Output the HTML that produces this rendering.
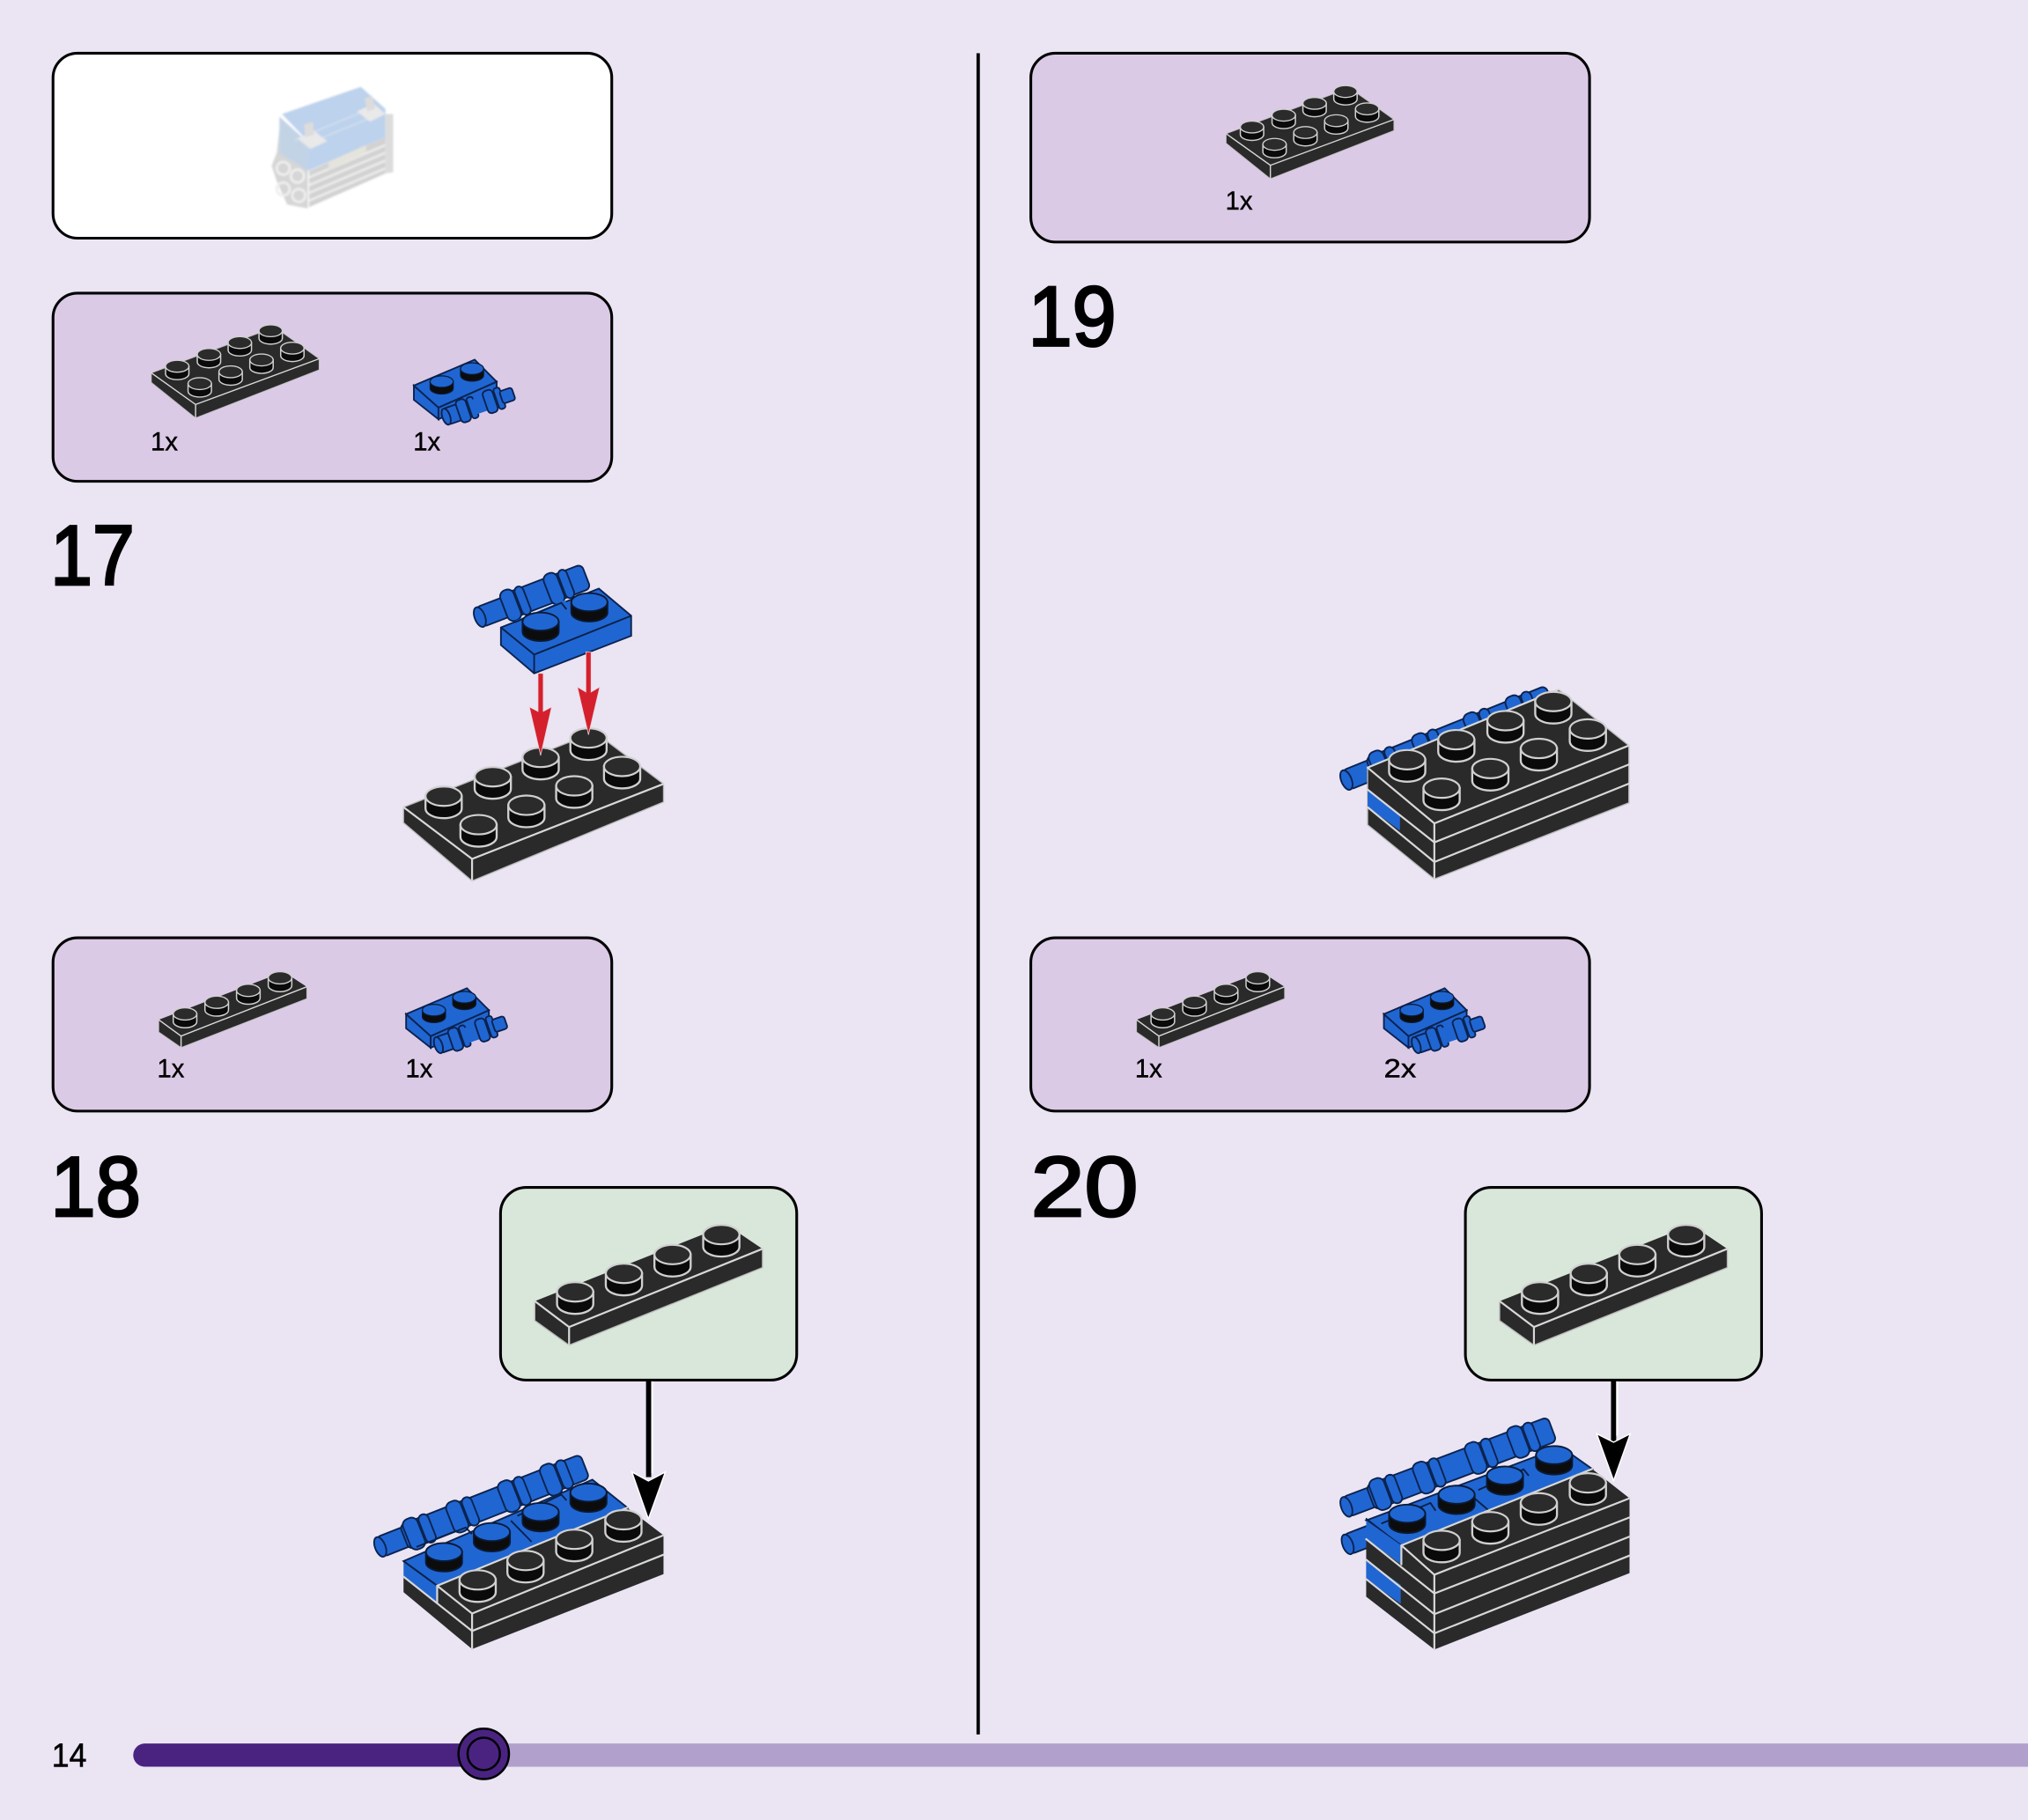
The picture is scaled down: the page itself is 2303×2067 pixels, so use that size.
<!DOCTYPE html>
<html><head><meta charset="utf-8"><title>Build steps 17-20</title>
<style>html,body{margin:0;padding:0;background:#ebe4f3}svg{display:block}
text{font-family:"Liberation Sans",sans-serif;fill:#000}
.n{font-size:66px;stroke:#000;stroke-width:1.9px}.q{font-size:20px;stroke:#000;stroke-width:.3px}
.bk{fill:#2a2a2a}.e{stroke:#d8d8d8;stroke-width:1.5;fill:none;stroke-linecap:round}
.o{stroke:#b9b9b9;stroke-width:.9}.bl{fill:#2066d2}.d{stroke:#0b2350;stroke-width:1.3}.bd{stroke:#0a2148;stroke-width:1.3;fill:none}</style></head>
<body>
<svg xmlns="http://www.w3.org/2000/svg" width="2303" height="2067" viewBox="0 0 1568 1407">
<defs>
<filter id="soft" x="-5%" y="-5%" width="110%" height="110%"><feGaussianBlur stdDeviation=".7"/></filter>
<g id="s"><path d="M-14,-4.500V5A14,7.500 0 0 0 14,5V-4.500Z" fill="#0a0a0a" stroke="#d0d0d0" stroke-width="1.600"/><ellipse cy="-4.500" rx="14" ry="7.500" fill="#2b2b2b" stroke="#d0d0d0" stroke-width="1.500"/></g>
<g id="b"><path d="M-14,-4V4A14,7 0 0 0 14,4V-4Z" fill="#0c0c0c" stroke="#0a1a35" stroke-width="1.300"/><ellipse cy="-4" rx="14" ry="7" fill="#2066d2" stroke="#0a1a35" stroke-width="1.300"/></g>
<g id="p8">
<polygon class="bk o" points="312,624 460,566 513,606 513,620 365,681 312,636"/>
<path class="e" d="M312,624L365,664L513,606M365,664V681"/>
<use href="#s" x="343" y="620"/><use href="#s" x="381" y="605"/><use href="#s" x="418" y="590"/><use href="#s" x="455" y="575"/>
<use href="#s" x="370" y="642"/><use href="#s" x="407" y="627"/><use href="#s" x="444" y="612"/><use href="#s" x="481" y="597"/>
</g>
<g id="p4">
<polygon class="bk o" points="413.500,1006 440,1026 589.500,965.500 589.500,980 440,1040 413.500,1021"/>
<polygon class="bk" points="413.500,1006 562,947 589.500,965.500 440,1026"/>
<path class="e" d="M413.500,1006L440,1026L589.500,965.500M440,1026V1040"/>
<use href="#s" x="444.700" y="1003.300"/><use href="#s" x="482.400" y="989"/><use href="#s" x="520" y="974.400"/><use href="#s" x="557.700" y="959"/>
</g>
<g id="tube">
<rect class="bl d" x="0" y="-8" width="26" height="16" rx="3"/>
<rect class="bl d" x="20" y="-10" width="150" height="20" rx="4"/>
<g class="bl d">
<rect x="22" y="-12.500" width="12" height="25" rx="5"/><rect x="35" y="-11.500" width="8" height="23" rx="4"/>
<rect x="58" y="-12.500" width="12" height="25" rx="5"/><rect x="71" y="-11.500" width="8" height="23" rx="4"/>
<rect x="101" y="-12.500" width="12" height="25" rx="5"/><rect x="114" y="-11.500" width="8" height="23" rx="4"/>
<rect x="136" y="-12.500" width="12" height="25" rx="5"/><rect x="149" y="-11.500" width="8" height="23" rx="4"/>
</g>
<ellipse class="bl d" cx="0" rx="4" ry="8"/>
</g>
<g id="bs">
<polygon class="bl d" points="320,298 339,315 339,324 320,309"/>
<polygon class="bl d" points="339,315 384,295 384,305 339,324"/>
<polygon class="bl d" points="320,298 367,278 384,295 339,315"/>
<use href="#b" transform="translate(341.500,297.500) scale(.64)"/><use href="#b" transform="translate(365,287.500) scale(.64)"/>
<g transform="translate(345,322) rotate(-19)">
<rect class="bl d" x="0" y="-6.500" width="22" height="13" rx="2"/>
<rect class="bl d" x="10" y="-9" width="8" height="18" rx="3"/><rect class="bl d" x="19" y="-8.500" width="5" height="17" rx="2"/>
<rect class="bl" x="23" y="-6" width="20" height="12"/>
<rect class="bl d" x="32" y="-9" width="8" height="18" rx="3"/><rect class="bl d" x="41" y="-8.500" width="5" height="17" rx="2"/>
<rect class="bl d" x="45" y="-5" width="10" height="10" rx="2"/>
<ellipse class="bl d" cx="0" rx="3" ry="6.500"/>
</g>
</g>
</defs>
<rect width="1568" height="1407" fill="#ebe4f3"/>

<!-- boxes -->
<g stroke="#000" stroke-width="2.100">
<rect x="41" y="41" width="432" height="143" rx="19" fill="#fff"/>
<rect x="41" y="226.500" width="432" height="145.500" rx="19" fill="#dbcae6"/>
<rect x="41" y="725" width="432" height="134" rx="19" fill="#dbcae6"/>
<rect x="797" y="41" width="432" height="146" rx="19" fill="#dbcae6"/>
<rect x="797" y="725" width="432" height="134" rx="19" fill="#dbcae6"/>
<rect x="387" y="918" width="229" height="149" rx="20" fill="#d9e6da"/>
<rect x="1133" y="918" width="229" height="149" rx="20" fill="#d9e6da"/>
</g>
<rect x="755" y="41" width="2.600" height="1300" fill="#000"/>

<!-- faded model -->
<g filter="url(#soft)">
<polygon points="216,100 238,110 238,161 222,158 214,140 210,128 214,118" fill="#d6d6d6"/>
<polygon points="216,90 238,110 238,132 216,118" fill="#c3d3e6"/>
<g fill="none" stroke="#eeeeee" stroke-width="2"><circle cx="219" cy="130" r="5"/><circle cx="230" cy="136" r="5"/><circle cx="219" cy="146" r="5"/><circle cx="231" cy="151" r="5"/></g>
<polygon points="218,88 279,67 298,84 298,106 238,132 238,109" fill="#bdd2ec"/>
<polygon points="239,132 298,106 298,134 239,160" fill="#d2d2d2"/>
<g stroke="#ececec" stroke-width="1.800"><path d="M239,137L298,112M239,143L298,118M239,149L298,124M239,155L298,130"/></g>
<polygon points="254,125 283,112 283,118 254,131" fill="#e4e4dc"/>
<polygon points="298,88 304,88 304,133 298,134" fill="#dcdcdc"/>
<path d="M228,108L281,86M238,111L296,87" stroke="#cfdef0" stroke-width="1.300"/>
<polygon points="230,107 243,101 253,109 240,115" fill="#e9e9e9"/><polygon points="276,86 289,80 298,88 286,94" fill="#e9e9e9"/>
<polygon points="235,96 242,94 243,104 236,106" fill="#dcdcdc"/><polygon points="282,76 288,74 290,84 284,86" fill="#dcdcdc"/>
</g>

<!-- text -->
<text class="n" x="39" y="452" textLength="65" lengthAdjust="spacingAndGlyphs">17</text>
<text class="n" x="39" y="940" textLength="70" lengthAdjust="spacingAndGlyphs">18</text>
<text class="n" x="795" y="267" textLength="68" lengthAdjust="spacingAndGlyphs">19</text>
<text class="n" x="797" y="940" textLength="83" lengthAdjust="spacingAndGlyphs">20</text>
<text class="q" x="116.500" y="348" textLength="21" lengthAdjust="spacingAndGlyphs">1x</text>
<text class="q" x="319.500" y="348" textLength="21" lengthAdjust="spacingAndGlyphs">1x</text>
<text class="q" x="121.500" y="833" textLength="21" lengthAdjust="spacingAndGlyphs">1x</text>
<text class="q" x="313.500" y="833" textLength="21" lengthAdjust="spacingAndGlyphs">1x</text>
<text class="q" x="877.500" y="833" textLength="21" lengthAdjust="spacingAndGlyphs">1x</text>
<text class="q" x="1070" y="833" textLength="25" lengthAdjust="spacingAndGlyphs">2x</text>
<text class="q" x="947.500" y="162" textLength="21" lengthAdjust="spacingAndGlyphs">1x</text>
<text x="40" y="1366" font-size="26" stroke="#000" stroke-width=".4" textLength="27" lengthAdjust="spacingAndGlyphs">14</text>

<!-- part icons -->
<use href="#p8" transform="translate(-84.200,-92.400) scale(.645,.61)"/>
<use href="#p8" transform="translate(746.800,-277.400) scale(.645,.61)"/>
<use href="#bs"/>
<use href="#bs" transform="translate(-6,486)"/>
<use href="#bs" transform="translate(750,486)"/>
<use href="#p4" transform="translate(-146,154.600) scale(.65,.63)"/>
<use href="#p4" transform="translate(610,154.600) scale(.65,.63)"/>

<!-- callout plates -->
<use href="#p4"/>
<use href="#p4" transform="translate(746,0)"/>

<!-- step 17 -->
<use href="#p8"/>
<polygon class="bl d" points="387.300,485 463,455 488,476 488,491.500 413,520.500 387.300,498.600"/>
<path class="bd" d="M387.300,485L413,506L488,476M413,506V520.500"/>
<g transform="translate(371,477) rotate(-21)">
<rect class="bl d" x="0" y="-8" width="24" height="16" rx="3"/>
<rect class="bl d" x="20" y="-10" width="68" height="20" rx="4"/>
<rect class="bl d" x="20" y="-12.500" width="11" height="25" rx="5"/><rect class="bl d" x="32" y="-11.500" width="7" height="23" rx="4"/>
<rect class="bl d" x="56" y="-12.500" width="11" height="25" rx="5"/><rect class="bl d" x="68" y="-11.500" width="7" height="23" rx="4"/>
<ellipse class="bl d" cx="0" rx="4" ry="8"/>
</g>
<polygon class="bl" points="398,480 436,464 444,470 412,484"/>
<path class="bd" d="M398,481L434,466L438,471"/>
<use href="#b" x="418" y="484.500"/><use href="#b" x="455.700" y="469.500"/>
<g fill="#d4202d" stroke="#ecd6dc" stroke-width=".5">
<polygon points="416,520.500 420,520.500 420,550 426.500,546.500 418,584 409.300,546.500 416,550"/>
<polygon points="453,504 457,504 457,535 463.700,531 455,568 446.400,531 453,535"/>
</g>

<!-- step 18 -->
<polygon class="bl d" points="312,1207 458,1144 485,1165.600 338,1226"/>
<use href="#tube" transform="translate(294,1196) rotate(-21.5)"/>
<path class="bd" d="M395,1175.700L411,1192M400,1172L434,1155.500L438,1160M322,1196L360,1181L365,1186"/>
<use href="#b" x="343.300" y="1204"/><use href="#b" x="380.300" y="1188.500"/><use href="#b" x="418" y="1173"/><use href="#b" x="455" y="1158"/>
<polygon class="bl" points="312,1207 338,1226 338,1239 312,1219"/>
<polygon class="bk" points="312,1219 338,1239 338,1226 365,1247.500 513,1187 513,1217 365,1275 312,1231"/>
<polygon class="bk" points="338,1226 485,1165.600 513,1187 365,1247.500"/>
<path class="bd" d="M312,1207L338,1226"/>
<path class="e" d="M338,1239V1226L485,1165.600M338,1226L365,1247.500L513,1187M312,1219L365,1261L513,1202M365,1247.500V1275"/>
<use href="#s" x="369.300" y="1226"/><use href="#s" x="406.300" y="1211"/><use href="#s" x="444" y="1194.600"/><use href="#s" x="482" y="1179.500"/>

<!-- arrows black -->
<g fill="#000" stroke="#fff" stroke-width="1">
<rect x="499.500" y="1067" width="4" height="75" stroke="none"/>
<polygon points="488.500,1138 501.300,1145 514.500,1138 501.300,1174.500"/>
<rect x="1245.600" y="1067" width="4" height="48" stroke="none"/>
<polygon points="1234.500,1108.500 1247.600,1115 1260.500,1108.500 1247.600,1144.800"/>
</g>
<rect x="503.500" y="1068" width="1.500" height="71" fill="#fff"/><rect x="1249.600" y="1068" width="1.500" height="42" fill="#fff"/>

<!-- step 19 -->
<use href="#tube" transform="translate(1041,603) rotate(-22)"/>
<polygon class="bk o" points="1057.400,593.400 1205,533 1259.400,576.300 1259.400,620.600 1109,679.600 1057.400,637.600"/>
<polygon class="bl" points="1057.400,610.400 1082.400,629.700 1082.400,642 1057.400,624"/>
<path class="e" d="M1057.400,593.400L1109,636.500L1259.400,576.300M1057.400,610.400L1109,651.200L1259.400,591M1057.400,624L1109,666.400L1259.400,605.800M1109,636.500V679.600M1057.400,593.400L1205,533"/>
<use href="#s" x="1088" y="591.800"/><use href="#s" x="1126" y="576.300"/><use href="#s" x="1164" y="561.600"/><use href="#s" x="1201" y="546.800"/>
<use href="#s" x="1114.600" y="613.800"/><use href="#s" x="1152.300" y="598.600"/><use href="#s" x="1189.800" y="583.100"/><use href="#s" x="1227.700" y="568"/>

<!-- step 20 -->
<g transform="translate(1042,1194) rotate(-21)"><rect class="bl d" x="0" y="-8" width="22" height="16" rx="3"/><ellipse class="bl d" cx="0" rx="4" ry="8"/></g>
<polygon class="bl d" points="1056.300,1175.500 1207,1118.700 1231,1135.700 1083.500,1194.800"/>
<use href="#tube" transform="translate(1041,1165) rotate(-20.7)"/>
<path class="bd" d="M1136,1155L1156,1172M1143,1152L1178,1136L1182,1141M1068,1178L1106,1162L1110,1168M1056,1174L1083,1195"/>
<use href="#b" x="1088" y="1174.300"/><use href="#b" x="1126.200" y="1159.600"/><use href="#b" x="1163.600" y="1144.800"/><use href="#b" x="1201.600" y="1129"/>
<polygon class="bl" points="1056.300,1175.500 1083.500,1194.800 1083.500,1209.500 1056.300,1190"/>
<polygon class="bk" points="1056.300,1190 1083.500,1209.500 1083.500,1194.800 1109,1217.500 1259.900,1158.400 1259.900,1216.300 1109,1275.300 1056.300,1234.500"/>
<polygon class="bk" points="1083.500,1194.800 1231,1135.700 1259.900,1158.400 1109,1217.500"/>
<polygon class="bl" points="1056.300,1205.900 1083,1225.400 1083,1240 1056.300,1220.900"/>
<path class="e" d="M1083.500,1209.500V1194.800L1231,1135.700M1083.500,1194.800L1109,1217.500L1259.900,1158.400M1056.300,1190L1109,1232L1259.900,1173.200M1056.300,1205.900L1109,1248L1259.900,1188M1056.300,1220.900L1109,1262.800L1259.900,1202.700M1109,1217.500V1275.300"/>
<use href="#s" x="1114.600" y="1195.400"/><use href="#s" x="1152.300" y="1181"/><use href="#s" x="1189.800" y="1166.400"/><use href="#s" x="1227.700" y="1151"/>

<!-- progress -->
<rect x="360" y="1348" width="1230" height="18" fill="#b19fcc"/>
<rect x="103" y="1348" width="280" height="18" rx="9" fill="#4a2381"/>
<circle cx="374" cy="1356" r="19.500" fill="#4a2381" stroke="#000" stroke-width="1.700"/>
<circle cx="374" cy="1356" r="12.500" fill="#4a2381" stroke="#000" stroke-width="1.700"/>
</svg>
</body></html>
